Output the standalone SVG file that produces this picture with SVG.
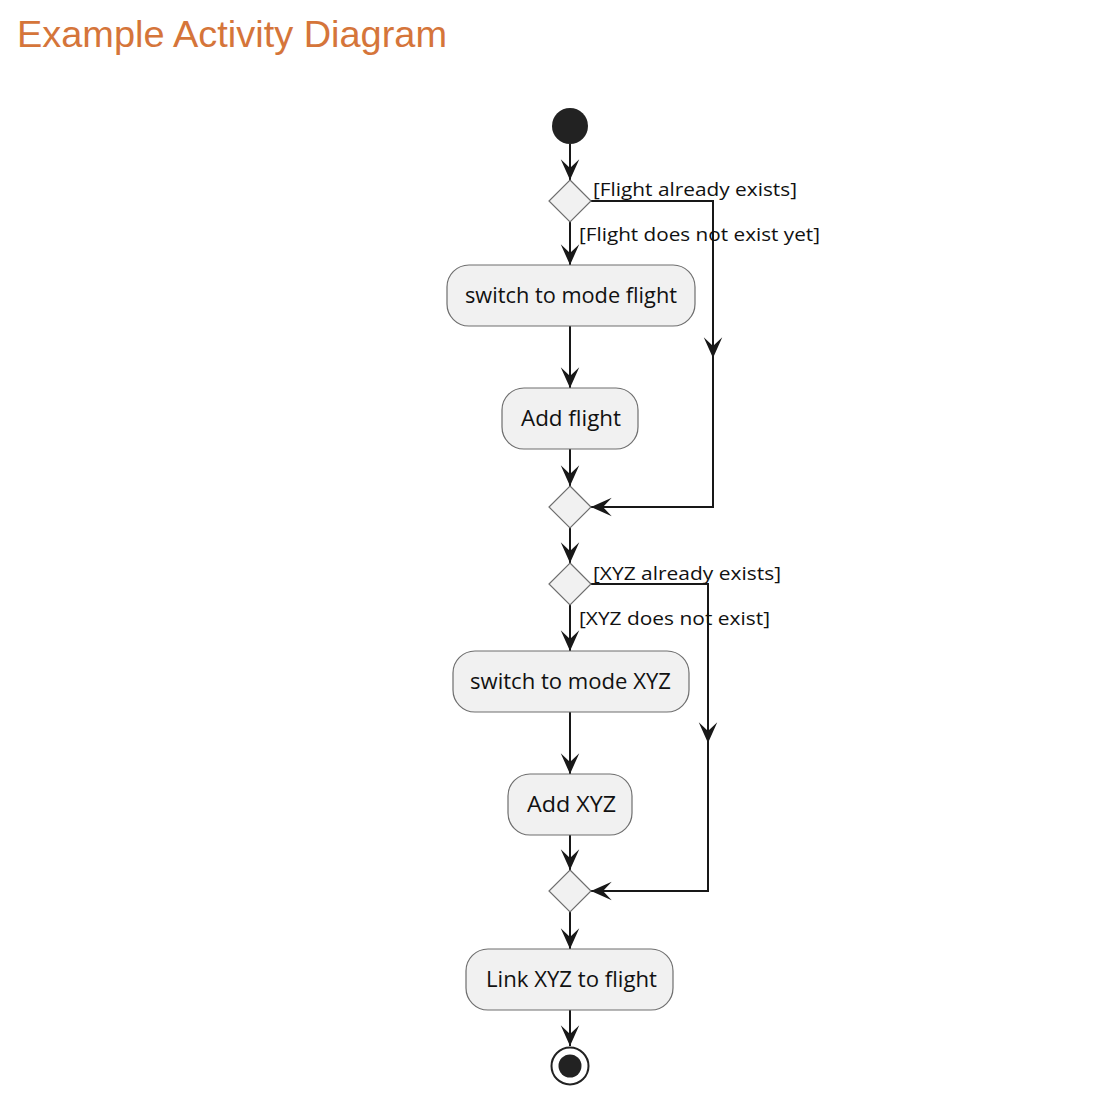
<svg xmlns="http://www.w3.org/2000/svg" width="1098" height="1098" viewBox="0 0 1098 1098">
<defs>
<style>
.title{font-family:"Liberation Sans","Noto Sans",sans-serif;font-size:36px;fill:#D5753A}
.act{fill:#F1F1F1;stroke:#6E6E6E;stroke-width:1.2}
.dia{fill:#F1F1F1;stroke:#6E6E6E;stroke-width:1.2}
.lbl{font-family:"Open Sans","Noto Sans",sans-serif;font-size:21px;fill:#111;text-anchor:middle}
.grd{font-family:"Open Sans","Noto Sans",sans-serif;font-size:18px;fill:#111}
.edge{fill:none;stroke:#181818;stroke-width:2}
</style>
<marker id="ah" markerUnits="userSpaceOnUse" markerWidth="24" markerHeight="24" viewBox="-20 -10 22 20" refX="0" refY="0" orient="auto">
<path d="M0,0 L-19,-8.5 L-11,0 L-19,8.5 Z" fill="#181818"/>
</marker>
</defs>
<rect width="1098" height="1098" fill="#FFFFFF"/>
<text class="title" x="17" y="47" textLength="430" lengthAdjust="spacingAndGlyphs">Example Activity Diagram</text>

<g id="connectors">
<line class="edge" x1="570" y1="144" x2="570" y2="180" marker-end="url(#ah)"/>
<line class="edge" x1="570" y1="222" x2="570" y2="265" marker-end="url(#ah)"/>
<polyline class="edge" points="591,201 713,201 713,357"/>
<line class="edge" x1="713" y1="340" x2="713" y2="358" marker-end="url(#ah)"/>
<polyline class="edge" points="713,350 713,507 591,507" marker-end="url(#ah)"/>
<line class="edge" x1="570" y1="326" x2="570" y2="388" marker-end="url(#ah)"/>
<line class="edge" x1="570" y1="449" x2="570" y2="486" marker-end="url(#ah)"/>
<line class="edge" x1="570" y1="528" x2="570" y2="563" marker-end="url(#ah)"/>
<line class="edge" x1="570" y1="605" x2="570" y2="651" marker-end="url(#ah)"/>
<polyline class="edge" points="591,584 708,584 708,745"/>
<line class="edge" x1="708" y1="725" x2="708" y2="743" marker-end="url(#ah)"/>
<polyline class="edge" points="708,735 708,891 591,891" marker-end="url(#ah)"/>
<line class="edge" x1="570" y1="712" x2="570" y2="774" marker-end="url(#ah)"/>
<line class="edge" x1="570" y1="835" x2="570" y2="870" marker-end="url(#ah)"/>
<line class="edge" x1="570" y1="912" x2="570" y2="949" marker-end="url(#ah)"/>
<line class="edge" x1="570" y1="1010" x2="570" y2="1046" marker-end="url(#ah)"/>
<text class="grd" x="593" y="196" textLength="204" lengthAdjust="spacingAndGlyphs">[Flight already exists]</text>
<text class="grd" x="579" y="241" textLength="241" lengthAdjust="spacingAndGlyphs">[Flight does not exist yet]</text>
<text class="grd" x="593" y="580" textLength="188" lengthAdjust="spacingAndGlyphs">[XYZ already exists]</text>
<text class="grd" x="579" y="625" textLength="191" lengthAdjust="spacingAndGlyphs">[XYZ does not exist]</text>
</g>

<g id="start"><circle cx="570" cy="126" r="18" fill="#222222"/></g>
<g id="decision1"><polygon class="dia" points="570,180 591,201 570,222 549,201"/></g>
<g id="switchFlight"><rect class="act" x="447" y="265" width="248" height="61" rx="22"/><text class="lbl" x="571" y="303" textLength="212" lengthAdjust="spacingAndGlyphs">switch to mode flight</text></g>
<g id="addFlight"><rect class="act" x="502" y="388" width="136" height="61" rx="22"/><text class="lbl" x="571" y="426" textLength="100" lengthAdjust="spacingAndGlyphs">Add flight</text></g>
<g id="merge1"><polygon class="dia" points="570,486 591,507 570,528 549,507"/></g>
<g id="decision2"><polygon class="dia" points="570,563 591,584 570,605 549,584"/></g>
<g id="switchXYZ"><rect class="act" x="453" y="651" width="236" height="61" rx="22"/><text class="lbl" x="570.5" y="689" textLength="201" lengthAdjust="spacingAndGlyphs">switch to mode XYZ</text></g>
<g id="addXYZ"><rect class="act" x="508" y="774" width="124" height="61" rx="22"/><text class="lbl" x="571.5" y="812" textLength="89" lengthAdjust="spacingAndGlyphs">Add XYZ</text></g>
<g id="merge2"><polygon class="dia" points="570,870 591,891 570,912 549,891"/></g>
<g id="linkXYZ"><rect class="act" x="466" y="949" width="207" height="61" rx="22"/><text class="lbl" x="571.5" y="987" textLength="171" lengthAdjust="spacingAndGlyphs">Link XYZ to flight</text></g>
<g id="end"><circle cx="570" cy="1066" r="18.5" fill="none" stroke="#222222" stroke-width="2"/><circle cx="570" cy="1066" r="11.5" fill="#222222"/></g>
</svg>
